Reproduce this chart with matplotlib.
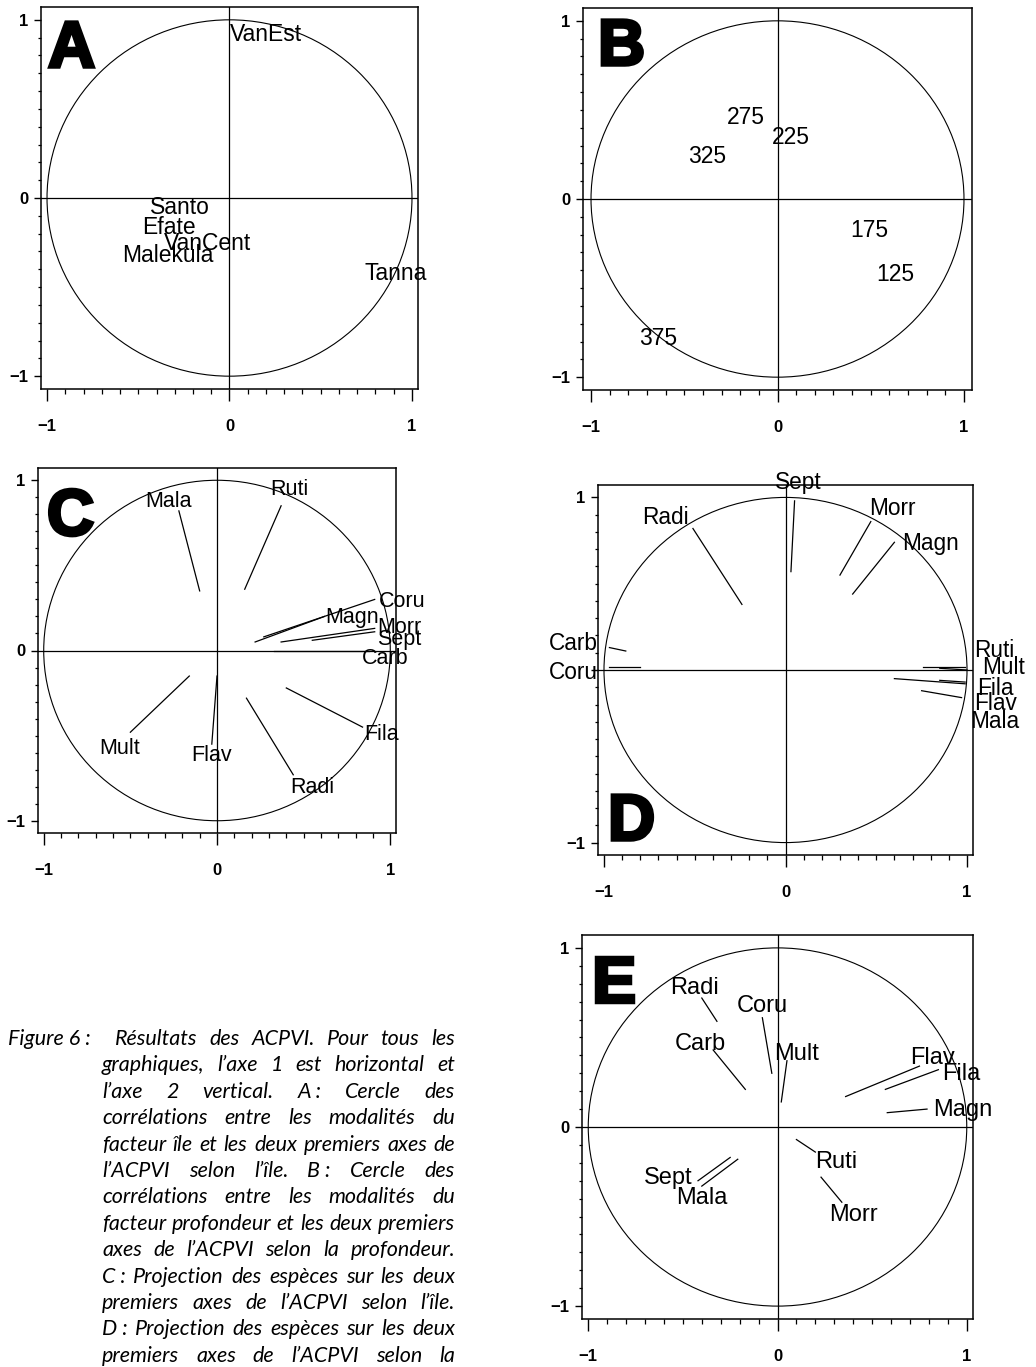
import matplotlib
matplotlib.use("Agg")
import matplotlib.pyplot as plt
from matplotlib.patches import Circle
from matplotlib.ticker import FixedLocator, MultipleLocator
import matplotlib.patheffects as pe

# A : correlation circle, island factor levels
isl_names = ["VanEst", "Santo", "Efate", "VanCent", "Malekula", "Tanna"]
isl_x = [0.20, -0.27, -0.33, -0.12, -0.34, 0.91]
isl_y = [0.93, -0.04, -0.15, -0.24, -0.31, -0.41]

# B : correlation circle, depth factor levels
dep_names = ["275", "225", "325", "175", "125", "375"]
dep_x = [-0.17, 0.07, -0.375, 0.49, 0.63, -0.64]
dep_y = [0.47, 0.36, 0.25, -0.16, -0.41, -0.77]

# C : species on ACPVI by island (segment start -> end, then label)
c_names = ["Mala", "Ruti", "Coru", "Magn", "Morr", "Sept", "Carb", "Fila", "Radi", "Flav", "Mult"]
c_x0 = [-0.10, 0.16, 0.27, 0.22, 0.37, 0.55, 0.33, 0.40, 0.17, 0.00, -0.16]
c_y0 = [0.35, 0.36, 0.08, 0.05, 0.05, 0.06, 0.00, -0.22, -0.28, -0.15, -0.15]
c_x1 = [-0.22, 0.37, 0.91, 0.62, 0.91, 0.91, 0.88, 0.84, 0.44, -0.03, -0.50]
c_y1 = [0.82, 0.85, 0.30, 0.20, 0.13, 0.11, 0.00, -0.45, -0.73, -0.55, -0.48]
c_lx = [-0.28, 0.42, 1.07, 0.78, 1.05, 1.05, 0.97, 0.95, 0.55, -0.03, -0.56]
c_ly = [0.89, 0.96, 0.30, 0.21, 0.15, 0.08, -0.03, -0.48, -0.79, -0.60, -0.56]

# D : species on ACPVI by depth
d_names = ["Sept", "Radi", "Morr", "Magn", "Carb", "Coru", "Ruti", "Mult", "Fila", "Flav", "Mala"]
d_x0 = [0.03, -0.24, 0.30, 0.37, -0.88, -0.80, 0.76, 0.85, 0.60, 0.85, 0.75]
d_y0 = [0.57, 0.38, 0.55, 0.44, 0.11, 0.02, 0.02, 0.01, -0.05, -0.06, -0.12]
d_x1 = [0.05, -0.51, 0.47, 0.60, -0.97, -0.97, 0.99, 1.00, 0.99, 0.99, 0.97]
d_y1 = [0.98, 0.82, 0.86, 0.74, 0.13, 0.02, 0.02, 0.00, -0.08, -0.07, -0.16]
d_lx = [0.07, -0.66, 0.59, 0.80, -1.17, -1.17, 1.15, 1.20, 1.155, 1.155, 1.15]
d_ly = [1.10, 0.90, 0.95, 0.75, 0.17, 0.00, 0.13, 0.03, -0.09, -0.18, -0.285]

# E : species on ACPVI by island x depth
e_names = ["Radi", "Coru", "Carb", "Mult", "Flav", "Fila", "Magn", "Ruti", "Morr", "Sept", "Mala"]
e_x0 = [-0.32, -0.03, -0.17, 0.02, 0.36, 0.57, 0.58, 0.10, 0.23, -0.25, -0.21]
e_y0 = [0.59, 0.30, 0.21, 0.14, 0.17, 0.21, 0.08, -0.07, -0.28, -0.17, -0.18]
e_x1 = [-0.40, -0.08, -0.34, 0.05, 0.75, 0.85, 0.79, 0.20, 0.34, -0.42, -0.40]
e_y1 = [0.72, 0.61, 0.43, 0.37, 0.34, 0.32, 0.10, -0.14, -0.42, -0.30, -0.33]
e_lx = [-0.44, -0.08, -0.41, 0.10, 0.82, 0.97, 0.98, 0.31, 0.40, -0.58, -0.40]
e_ly = [0.79, 0.69, 0.48, 0.42, 0.40, 0.31, 0.11, -0.18, -0.48, -0.27, -0.38]

ticks = [-1, 0, 1]
tick_labels = ["\u22121", "0", "1"]

W, H = 1036, 1367
fig = plt.figure(figsize=(W / 100, H / 100), dpi=100)
fig.patch.set_facecolor("white")

SANS = "Liberation Sans"


def make_panel(box, xhalf=1.033, yhalf=1.072, ylabels=tick_labels):
    l, t, r, b = box
    ax = fig.add_axes([l / W, 1 - b / H, (r - l) / W, (b - t) / H])
    ax.set_xlim(-xhalf, xhalf)
    ax.set_ylim(-yhalf, yhalf)
    for s in ax.spines.values():
        s.set_linewidth(1.1)
    ax.add_patch(Circle((0, 0), 1.0, fill=False, lw=0.8, color="black"))
    ax.axhline(0, color="black", lw=0.9)
    ax.axvline(0, color="black", lw=0.9)
    ax.xaxis.set_major_locator(FixedLocator(ticks))
    ax.yaxis.set_major_locator(FixedLocator(ticks))
    ax.set_xticklabels(tick_labels)
    ax.set_yticklabels(ylabels)
    ax.xaxis.set_minor_locator(MultipleLocator(0.1))
    ax.yaxis.set_minor_locator(MultipleLocator(0.1))
    ax.tick_params(axis="x", which="major", direction="out", length=8.5, width=1.0, pad=13)
    ax.tick_params(axis="x", which="minor", direction="out", length=3.6, width=0.9)
    ax.tick_params(axis="y", which="major", direction="out", length=5, width=1.0, pad=4)
    ax.tick_params(axis="y", which="minor", direction="out", length=2.5, width=0.9)
    for lab in ax.get_xticklabels() + ax.get_yticklabels():
        lab.set_fontfamily(SANS)
        lab.set_fontweight("bold")
        lab.set_fontsize(12)
    return ax


def panel_letter(letter, x, y):
    fig.text(x / W, 1 - y / H, letter, fontsize=47, fontweight="bold", family=SANS,
             ha="left", va="baseline",
             path_effects=[pe.withStroke(linewidth=2.5, foreground="black",
                                         joinstyle="miter")])


def draw_species(ax, names, x0, y0, x1, y1, lx, ly, size):
    for i, n in enumerate(names):
        ax.plot([x0[i], x1[i]], [y0[i], y1[i]], color="black", lw=0.9)
        ax.text(lx[i], ly[i], n, fontsize=size, family=SANS, ha="center",
                va="center_baseline", clip_on=False)


# A
axA = make_panel((41, 7, 418, 389))
for n, x, y in zip(isl_names, isl_x, isl_y):
    axA.text(x, y, n, fontsize=16.5, family=SANS, ha="center", va="center_baseline")
panel_letter("A", 48, 67)

# B
axB = make_panel((583, 8, 972, 390), xhalf=1.043)
for n, x, y in zip(dep_names, dep_x, dep_y):
    axB.text(x, y, n, fontsize=16.5, family=SANS, ha="center", va="center_baseline")
panel_letter("B", 598, 65)

# C
axC = make_panel((38, 468, 396, 833))
draw_species(axC, c_names, c_x0, c_y0, c_x1, c_y1, c_lx, c_ly, 15.5)
panel_letter("C", 47, 535)

# D  (the y "0" is covered by the Coru label)
axD = make_panel((598, 485, 973, 855), ylabels=["\u22121", "", "1"])
draw_species(axD, d_names, d_x0, d_y0, d_x1, d_y1, d_lx, d_ly, 16.3)
panel_letter("D", 608, 840)

# E
axE = make_panel((582, 935, 973, 1319))
draw_species(axE, e_names, e_x0, e_y0, e_x1, e_y1, e_lx, e_ly, 17)
panel_letter("E", 592, 1002)

# caption, justified line by line
cap_lines = [
    "Résultats des ACPVI. Pour tous les",
    "graphiques, l’axe 1 est horizontal et",
    "l’axe 2 vertical. A\u00a0: Cercle des",
    "corrélations entre les modalités du",
    "facteur île et les deux premiers axes de",
    "l’ACPVI selon l’île. B\u00a0: Cercle des",
    "corrélations entre les modalités du",
    "facteur profondeur et les deux premiers",
    "axes de l’ACPVI selon la profondeur.",
    "C\u00a0: Projection des espèces sur les deux",
    "premiers axes de l’ACPVI selon l’île.",
    "D\u00a0: Projection des espèces sur les deux",
    "premiers axes de l’ACPVI selon la",
]
cap_font = dict(fontsize=15.5, family="Lato", style="italic", va="baseline")
renderer = fig.canvas.get_renderer()


def justify(line, x0, x1, yb):
    words = line.split(" ")
    arts = [fig.text(0, 0, w, **cap_font) for w in words]
    widths = [a.get_window_extent(renderer).width for a in arts]
    gap = (x1 - x0 - sum(widths)) / max(len(words) - 1, 1)
    gap = max(gap, 3.5)
    x = x0
    for a, w in zip(arts, widths):
        a.set_position((x / W, 1 - yb / H))
        x += w + gap


fig.text(8 / W, 1 - 1045 / H, "Figure 6\u00a0:", **cap_font)
for i, line in enumerate(cap_lines):
    left = 115 if i == 0 else 102
    justify(line, left, 455, 1045 + i * 26.4)

fig.savefig("out.png", dpi=100, facecolor="white")
